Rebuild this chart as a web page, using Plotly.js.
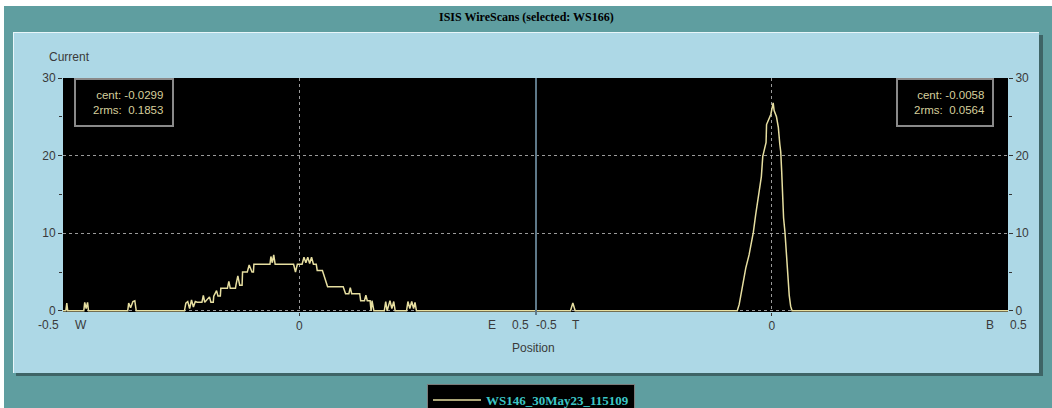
<!DOCTYPE html>
<html>
<head>
<meta charset="utf-8">
<script src="https://cdn.plot.ly/plotly-3.0.1.min.js"></script>
<style>html,body{margin:0;padding:0;background:#fff;}#chart{width:1052px;height:408px;}</style>
</head>
<body>
<div id="chart"></div>
<script>
// Horizontal scan (W..E)
const leftPos = [-0.5,-0.494,-0.492,-0.490,-0.456,-0.454,-0.451,-0.448,-0.446,-0.363,-0.361,-0.357,-0.352,-0.348,-0.345,
 -0.243,-0.240,-0.236,-0.232,-0.228,-0.224,-0.220,-0.216,-0.206,-0.203,-0.200,-0.190,-0.187,-0.182,-0.181,-0.175,-0.172,
 -0.167,-0.166,-0.152,-0.149,-0.146,-0.135,-0.134,-0.130,-0.126,-0.121,-0.120,-0.110,-0.106,-0.100,-0.097,-0.096,
 -0.062,-0.060,-0.057,-0.054,-0.051,-0.012,-0.008,-0.004,0.006,0.010,0.014,0.018,0.022,0.026,0.030,0.036,0.038,
 0.049,0.060,0.093,0.098,0.105,0.108,0.111,0.128,0.130,0.138,0.141,0.144,0.150,0.152,0.154,0.158,
 0.180,0.183,0.186,0.192,0.196,0.200,0.203,0.227,0.230,0.234,0.238,0.242,0.245,0.248,0.5];
const leftCur = [0,0,1.0,0,0,1.1,0.3,1.1,0,0,1.0,0.4,1.2,1.3,0,
 0,1.0,1.2,0.3,1.4,0.5,1.2,1.1,1.1,2.0,1.1,1.8,1.1,1.1,1.9,2.6,1.9,
 1.9,2.9,2.9,3.8,2.9,2.9,3.3,4.5,3.3,3.3,5.0,5.0,5.9,5.0,5.0,6.0,
 6.0,7.0,6.2,7.2,6.0,6.0,5.0,6.0,6.0,6.9,6.2,6.9,6.1,6.9,6.0,6.0,5.2,
 5.2,3.1,3.1,2.2,2.2,3.0,2.2,2.2,1.3,1.3,2.0,1.3,1.3,0,1.3,0,
 0,1.2,0,1.3,0.3,1.2,0,0,1.2,0.3,1.2,0.3,1.1,0,0];
// Vertical scan (T..B)
const rightPos = [-0.5,-0.426,-0.421,-0.416,-0.073,-0.069,-0.066,-0.061,-0.055,-0.048,-0.042,-0.039,-0.034,-0.028,-0.025,
 -0.022,-0.019,-0.016,-0.012,-0.011,-0.008,-0.002,0.003,0.005,0.010,0.014,0.017,0.019,0.021,0.023,0.025,0.028,0.031,
 0.034,0.037,0.040,0.043,0.5];
const rightCur = [0,0,1.0,0,0,0.8,1.8,3.7,5.5,7.2,9.0,10.1,12.4,14.8,16.0,
 17.3,19.9,20.8,21.7,24.0,24.4,25.3,26.8,25.8,25.0,23.6,21.5,20.5,18.0,14.8,12.0,10.1,7.0,
 4.0,2.0,0.6,0,0];
const seriesName = 'WS146_30May23_115109';
const yTicks = [0,10,20,30];
const statsLeft = ['cent: -0.0299','2rms:  0.1853'];
const statsRight = ['cent: -0.0058','2rms:  0.0564'];

const lineColor = '#e6dea0';
const tickFont = {family:'Liberation Sans, Arial, sans-serif', size:12, color:'#3a3a3a'};

const traces = [
  {x:leftPos, y:leftCur, xaxis:'x', yaxis:'y', mode:'lines', name:seriesName,
   line:{color:lineColor, width:1.5}, showlegend:true, hoverinfo:'x+y'},
  {x:rightPos, y:rightCur, xaxis:'x2', yaxis:'y2', mode:'lines', name:seriesName,
   line:{color:lineColor, width:1.5}, showlegend:false, hoverinfo:'x+y'}
];

function px(x){return (x-63)/945;}
function py(y){return (312-y)/234;}

const shapes = [
  // white frame at left/top
  {type:'rect', xref:'paper', yref:'paper', x0:px(-5), x1:px(4), y0:py(420), y1:py(-5), fillcolor:'#ffffff', line:{width:0}, layer:'below'},
  {type:'rect', xref:'paper', yref:'paper', x0:px(-5), x1:px(1060), y0:py(6), y1:py(-5), fillcolor:'#ffffff', line:{width:0}, layer:'below'},
  // panel shadow
  {type:'rect', xref:'paper', yref:'paper', x0:px(16), x1:px(1043), y0:py(376), y1:py(35), fillcolor:'#3e6466', line:{width:0}, layer:'below'},
  // panel highlight
  {type:'rect', xref:'paper', yref:'paper', x0:px(13), x1:px(1039), y0:py(373), y1:py(32), fillcolor:'#e8f6fa', line:{width:0}, layer:'below'},
  // panel
  {type:'rect', xref:'paper', yref:'paper', x0:px(14), x1:px(1039), y0:py(373), y1:py(33), fillcolor:'#add8e6', line:{width:0}, layer:'below'},
  // plot background
  {type:'rect', xref:'paper', yref:'paper', x0:0, x1:1, y0:0, y1:1, fillcolor:'#000000', line:{width:0}, layer:'below'},
  // divider between scans
  {type:'line', xref:'paper', yref:'paper', x0:px(536), x1:px(536), y0:py(315), y1:1, line:{color:'#5e7888', width:2}, layer:'above'},
  // stat boxes
  {type:'rect', xref:'paper', yref:'paper', x0:px(75), x1:px(173), y0:py(126), y1:py(79), fillcolor:'#000000', line:{color:'#8a8a8a', width:2}, layer:'above'},
  {type:'rect', xref:'paper', yref:'paper', x0:px(897), x1:px(993), y0:py(126), y1:py(79), fillcolor:'#000000', line:{color:'#8a8a8a', width:2}, layer:'above'}
];

const statFont = {family:'Liberation Sans, Arial, sans-serif', size:11.5, color:'#d6cf9c'};
const annotations = [
  {xref:'paper', yref:'paper', x:px(526), y:py(17), text:'<b>ISIS WireScans (selected: WS166)</b>', showarrow:false,
   font:{family:'Liberation Serif, Times New Roman, serif', size:12, color:'#000'}, xanchor:'center', yanchor:'middle'},
  {xref:'paper', yref:'paper', x:px(47), y:py(57), text:'Current', showarrow:false, font:tickFont, xanchor:'left', yanchor:'middle'},
  {xref:'paper', yref:'paper', x:px(533), y:py(348), text:'Position', showarrow:false, font:tickFont, xanchor:'center', yanchor:'middle'},
  {xref:'paper', yref:'paper', x:px(165), y:py(102), text:statsLeft.join('<br>'), showarrow:false, font:statFont, xanchor:'right', yanchor:'middle', align:'right'},
  {xref:'paper', yref:'paper', x:px(987), y:py(102), text:statsRight.join('<br>'), showarrow:false, font:statFont, xanchor:'right', yanchor:'middle', align:'right'},
  // x tick labels / end letters
  {xref:'x', yref:'paper', x:-0.5, y:py(325), text:'-0.5', xshift:-15, showarrow:false, font:tickFont, yanchor:'middle'},
  {xref:'x', yref:'paper', x:-0.5, y:py(325), text:'W', xshift:18, showarrow:false, font:tickFont, yanchor:'middle'},
  {xref:'x', yref:'paper', x:0.5, y:py(325), text:'E', xshift:-44, showarrow:false, font:tickFont, yanchor:'middle'},
  {xref:'x', yref:'paper', x:0.5, y:py(325), text:'0.5', xshift:-15, showarrow:false, font:tickFont, yanchor:'middle'},
  {xref:'x2', yref:'paper', x:-0.5, y:py(325), text:'-0.5', xshift:11, showarrow:false, font:tickFont, yanchor:'middle'},
  {xref:'x2', yref:'paper', x:-0.5, y:py(325), text:'T', xshift:40, showarrow:false, font:tickFont, yanchor:'middle'},
  {xref:'x2', yref:'paper', x:0.5, y:py(325), text:'B', xshift:-18, showarrow:false, font:tickFont, yanchor:'middle'},
  {xref:'x2', yref:'paper', x:0.5, y:py(325), text:'0.5', xshift:10, showarrow:false, font:tickFont, yanchor:'middle'}
];

const xCommon = {range:[-0.5,0.5], tickvals:[0], ticktext:['0'], showgrid:true, gridcolor:'#9a9a9a', griddash:'dot', gridwidth:1,
  zeroline:false, showline:false, ticks:'outside', ticklen:3, tickcolor:'#333', tickfont:tickFont, fixedrange:true};
const yCommon = {range:[-0.15,30], tickvals:yTicks, showgrid:true, gridcolor:'#9a9a9a', griddash:'dot', gridwidth:1,
  zeroline:false, showline:false, ticks:'outside', ticklen:4, tickcolor:'#333', tickfont:tickFont,
  minor:{dtick:5, tick0:0, ticks:'outside', ticklen:3, tickcolor:'#333', showgrid:false}, fixedrange:true};

const layout = {
  width:1052, height:408,
  margin:{l:63, r:44, t:78, b:96, pad:0, autoexpand:false},
  paper_bgcolor:'#5f9ea0',
  plot_bgcolor:'rgba(0,0,0,0)',
  showlegend:true,
  legend:{x:px(427), y:py(384), xanchor:'left', yanchor:'top', orientation:'h', bgcolor:'#000000', itemwidth:48,
    bordercolor:'#7a7a7a', borderwidth:1, font:{family:'Liberation Serif, Times New Roman, serif', size:13, color:'#3cc6c6', weight:'bold'}},
  xaxis:Object.assign({}, xCommon, {domain:[0,0.5], anchor:'y', automargin:false}),
  xaxis2:Object.assign({}, xCommon, {domain:[0.5,1], anchor:'y2', automargin:false}),
  yaxis:Object.assign({}, yCommon, {anchor:'x', side:'left', automargin:false}),
  yaxis2:Object.assign({}, yCommon, {anchor:'x2', side:'right', automargin:false}),
  shapes:shapes,
  annotations:annotations
};

Plotly.newPlot('chart', traces, layout, {displayModeBar:false, staticPlot:true});
</script>
</body>
</html>
